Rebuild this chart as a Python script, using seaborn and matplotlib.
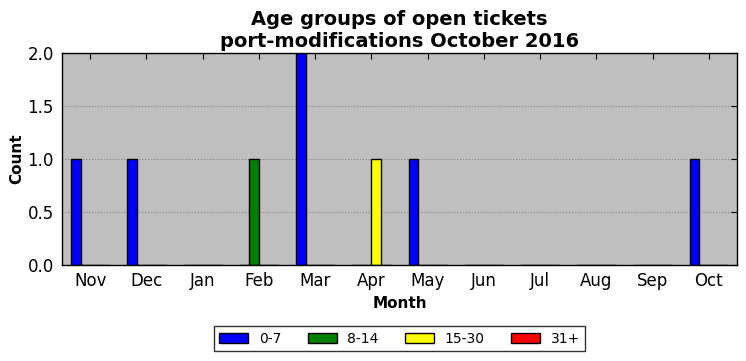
import matplotlib
matplotlib.use("Agg")
import matplotlib.pyplot as plt
import pandas as pd
import seaborn as sns

# Dados
meses = ["Nov", "Dec", "Jan", "Feb", "Mar", "Apr", "May", "Jun", "Jul", "Aug", "Sep", "Oct"]
grupos = ["0-7", "8-14", "15-30", "31+"]
c_0_7   = [1, 1, 0, 0, 2, 0, 1, 0, 0, 0, 0, 1]
c_8_14  = [0, 0, 0, 1, 0, 0, 0, 0, 0, 0, 0, 0]
c_15_30 = [0, 0, 0, 0, 0, 1, 0, 0, 0, 0, 0, 0]
c_31    = [0, 0, 0, 0, 0, 0, 0, 0, 0, 0, 0, 0]
cores = ["#0000ff", "#008000", "#ffff00", "#ff0000"]

df = pd.DataFrame({"0-7": c_0_7, "8-14": c_8_14, "15-30": c_15_30, "31+": c_31}, index=meses)
longo = df.reset_index(names="Month").melt(id_vars="Month", var_name="Age", value_name="Count")

sns.set_style("white")
plt.rcParams.update({
    "font.family": ["DejaVu Sans"],
    "text.color": "black",
    "axes.labelcolor": "black",
    "xtick.color": "black",
    "ytick.color": "black",
    "xtick.direction": "in",
    "ytick.direction": "in",
    "xtick.top": True,
    "ytick.right": True,
    "xtick.major.size": 4,
    "ytick.major.size": 4,
})

fig = plt.figure(figsize=(7.46, 3.61), dpi=100)
ax = fig.add_axes([62 / 746, 1 - 265 / 361, (737 - 62) / 746, (265 - 53) / 361])
ax.set_facecolor("#bfbfbf")

sns.barplot(data=longo, x="Month", y="Count", hue="Age", order=meses,
            hue_order=grupos, palette=cores, width=0.68, errorbar=None,
            edgecolor="black", linewidth=1.0, saturation=1, ax=ax)

ax.set_xlim(-0.5, 11.5)
ax.set_ylim(0, 2.0)
ax.set_yticks([0.0, 0.5, 1.0, 1.5, 2.0])
ax.yaxis.grid(True, linestyle=":", color="#808080", lw=0.8)
ax.set_axisbelow(True)
for s in ax.spines.values():
    s.set_color("black")
    s.set_linewidth(1.0)
ax.tick_params(axis="x", labelsize=12, pad=5)
ax.tick_params(axis="y", labelsize=12, pad=6)

ax.set_xlabel("Month", fontsize=11, fontweight="bold", labelpad=4)
ax.set_ylabel("Count", fontsize=11, fontweight="bold", labelpad=2)
ax.set_title("Age groups of open tickets\nport-modifications October 2016",
             fontsize=14, fontweight="bold", linespacing=1.2, color="black", pad=4.5)

leg = ax.legend(loc="upper center", bbox_to_anchor=(0.5, -0.255), ncol=4,
                fontsize=10, frameon=True, fancybox=False, edgecolor="black",
                handlelength=2.1, handletextpad=0.75, columnspacing=1.9,
                borderpad=0.4)
leg.get_frame().set_linewidth(1.0)

plt.savefig("out.png", dpi=100, facecolor="white")
plt.close()
